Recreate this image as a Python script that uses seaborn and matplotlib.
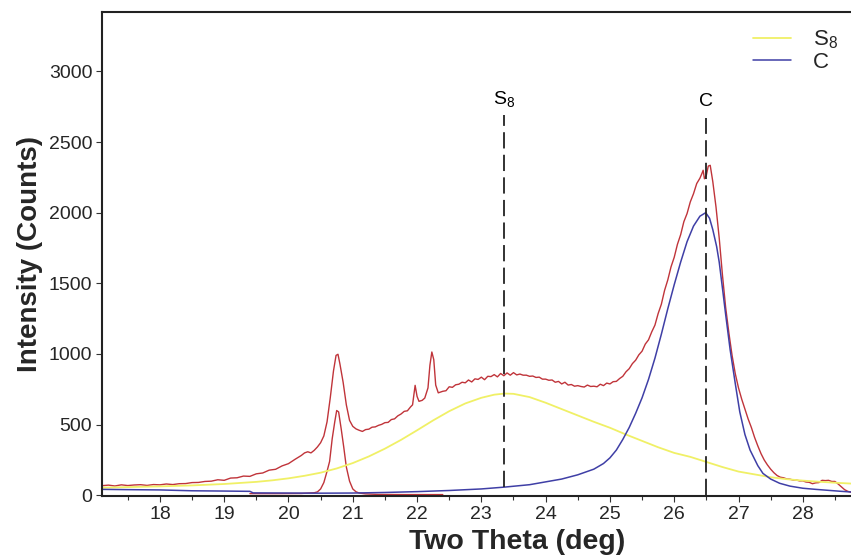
import numpy as np
import pandas as pd
import seaborn as sns
import matplotlib.pyplot as plt
from matplotlib.ticker import MultipleLocator

sns.set_theme(style='ticks')
plt.rcParams['font.family'] = ['Liberation Sans', 'DejaVu Sans']
plt.rcParams['mathtext.fontset'] = 'custom'
plt.rcParams['mathtext.rm'] = 'Liberation Sans'

# measured XRD pattern (red)
obs_x = [17.1, 17.2, 17.3, 17.4, 17.5, 17.6, 17.7, 17.8, 17.9, 18.0, 18.1, 18.2, 18.3, 18.4, 18.5,
         18.6, 18.7, 18.8, 18.9, 19.0, 19.1, 19.2, 19.3, 19.4, 19.5, 19.6, 19.7, 19.8, 19.9, 20.0,
         20.1, 20.2, 20.25, 20.3, 20.35, 20.4, 20.45, 20.5, 20.55, 20.6, 20.65, 20.7, 20.74, 20.77,
         20.8, 20.85, 20.9, 20.95, 21.0, 21.05, 21.1, 21.15, 21.2, 21.25, 21.3, 21.35, 21.4, 21.45,
         21.5, 21.55, 21.6, 21.65, 21.7, 21.75, 21.8, 21.85, 21.9, 21.93, 21.97, 22.0, 22.03, 22.08,
         22.12, 22.17, 22.2, 22.23, 22.26, 22.29, 22.33, 22.4, 22.45, 22.5, 22.55, 22.6, 22.65, 22.7,
         22.75, 22.8, 22.85, 22.9, 22.95, 23.0, 23.05, 23.1, 23.15, 23.2, 23.25, 23.3, 23.35, 23.4,
         23.45, 23.5, 23.55, 23.6, 23.65, 23.7, 23.75, 23.8, 23.85, 23.9, 23.95, 24.0, 24.05, 24.1,
         24.15, 24.2, 24.25, 24.3, 24.35, 24.4, 24.45, 24.5, 24.55, 24.6, 24.65, 24.7, 24.75, 24.8,
         24.85, 24.9, 24.95, 25.0, 25.05, 25.1, 25.15, 25.2, 25.25, 25.3, 25.35, 25.4, 25.45, 25.5,
         25.55, 25.6, 25.65, 25.7, 25.75, 25.8, 25.85, 25.9, 25.95, 26.0, 26.05, 26.1, 26.15, 26.2,
         26.25, 26.3, 26.35, 26.4, 26.43, 26.45, 26.47, 26.5, 26.53, 26.56, 26.6, 26.65, 26.7, 26.75,
         26.8, 26.85, 26.9, 26.95, 27.0, 27.05, 27.1, 27.15, 27.2, 27.25, 27.3, 27.35, 27.4, 27.45,
         27.5, 27.55, 27.6, 27.65, 27.7, 27.75, 27.8, 27.85, 27.9, 27.95, 28.0, 28.05, 28.1, 28.15,
         28.2, 28.25, 28.3, 28.35, 28.4, 28.45, 28.5, 28.55, 28.6, 28.65, 28.7, 28.75, 28.8]
obs_y = [68, 72, 66, 74, 69, 73, 75, 70, 76, 74, 80, 76, 82, 83, 90,
         91, 98, 100, 110, 106, 122, 124, 136, 134, 152, 158, 178, 184, 208, 224,
         254, 282, 300, 308, 300, 318, 342, 372, 420, 520, 690, 880, 990, 998,
         930, 800, 640, 530, 488, 470, 460, 452, 465, 468, 482, 484, 495, 502,
         514, 516, 536, 541, 562, 575, 594, 598, 626, 640, 778, 700, 665, 672,
         688, 760, 920, 1014, 960, 780, 725, 736, 740, 768, 764, 782, 786, 800,
         796, 816, 802, 824, 820, 836, 818, 842, 840, 854, 838, 862, 846, 866,
         850, 868, 852, 858, 850, 850, 842, 844, 834, 836, 822, 822, 814, 816,
         800, 806, 788, 800, 780, 784, 772, 776, 770, 766, 780, 770, 772, 768,
         786, 776, 794, 788, 804, 806, 826, 842, 874, 896, 932, 956, 994, 1020,
         1070, 1100, 1156, 1204, 1286, 1352, 1450, 1524, 1616, 1684, 1776, 1844, 1936, 1994,
         2076, 2134, 2206, 2244, 2276, 2300, 2240, 2265, 2330, 2335, 2220, 2040, 1820, 1560,
         1330, 1150, 990, 860, 760, 680, 610, 540, 480, 410, 350, 295, 250, 215,
         185, 160, 140, 128, 124, 116, 114, 108, 108, 102, 102, 94, 92, 82,
         88, 90, 106, 104, 106, 98, 98, 80, 60, 40, 28, 22, 20]

# narrow component at 20.77 (red)
peak_x = [19.4, 19.8, 20.2, 20.4, 20.45, 20.5, 20.55, 20.6, 20.64, 20.68, 20.72, 20.75, 20.78,
          20.82, 20.86, 20.9, 20.95, 21.0, 21.05, 21.1, 21.2, 21.4, 21.8, 22.4]
peak_y = [12, 12, 13, 18, 24, 45, 90, 170, 240, 400, 520, 600, 590,
          470, 340, 200, 100, 45, 25, 16, 10, 6, 5, 5]

# S8 fitted component (yellow)
s8_x = [17.1, 17.5, 18.0, 18.5, 19.0, 19.5, 19.75, 20.0, 20.25, 20.5, 20.75, 21.0, 21.25, 21.5,
        21.75, 22.0, 22.25, 22.5, 22.75, 23.0, 23.2, 23.36, 23.5, 23.75, 24.0, 24.25, 24.5, 24.75,
        25.0, 25.25, 25.5, 25.75, 26.0, 26.25, 26.5, 26.75, 27.0, 27.25, 27.5, 27.75, 28.0, 28.25,
        28.5, 28.75, 29.0]
s8_y = [54, 58, 63, 70, 80, 95, 106, 120, 138, 160, 190, 228, 275, 330,
        392, 460, 530, 595, 650, 690, 712, 720, 718, 695, 655, 610, 565, 520,
        478, 430, 385, 340, 300, 272, 236, 200, 168, 148, 128, 114, 104, 96,
        89, 83, 78]

# C fitted component (blue)
c_x = [17.1, 17.5, 18.0, 18.5, 19.0, 19.4, 19.45, 20.0, 20.5, 21.0, 21.5, 22.0, 22.5, 23.0,
       23.36, 23.75, 24.0, 24.25, 24.5, 24.75, 24.9, 25.0, 25.1, 25.2, 25.3, 25.4, 25.5, 25.6,
       25.7, 25.8, 25.9, 26.0, 26.1, 26.2, 26.3, 26.4, 26.49, 26.55, 26.6, 26.66, 26.7, 26.76,
       26.8, 26.87, 26.95, 27.02, 27.1, 27.18, 27.3, 27.38, 27.5, 27.64, 27.8, 28.0, 28.2, 28.4,
       28.6, 28.8, 29.0]
c_y = [42, 40, 38, 32, 30, 28, 17, 16, 15, 16, 20, 26, 34, 45,
       58, 75, 95, 115, 145, 185, 225, 265, 320, 395, 480, 580, 690, 820,
       970, 1140, 1320, 1490, 1650, 1795, 1905, 1975, 2000, 1960, 1880, 1760, 1650, 1430,
       1280, 1030, 790, 590, 430, 320, 210, 155, 115, 85, 65, 50, 42, 35,
       28, 22, 18]

# reference positions
ref_labels = ['S$_\\mathregular{8}$', 'C']
ref_pos = [23.36, 26.49]
ref_bottom = [58, 0]
ref_top = [2690, 2670]
ref_text_y = [2730, 2730]

red = '#c0343a'
yellow = '#f0f066'
blue = '#3f3fa6'

fig = plt.figure(figsize=(8.51, 5.58), dpi=100)
ax = fig.add_axes([0.1199, 0.1111, 0.899, 0.8674])

sns.lineplot(x=obs_x, y=obs_y, ax=ax, color=red, lw=1.0, sort=False)
sns.lineplot(x=peak_x, y=peak_y, ax=ax, color=red, lw=1.0, sort=False)
sns.lineplot(x=s8_x, y=s8_y, ax=ax, color=yellow, lw=1.3, sort=False, label='S$_\\mathregular{8}$')
sns.lineplot(x=c_x, y=c_y, ax=ax, color=blue, lw=1.1, sort=False, label='C')

ax.vlines(ref_pos, ref_bottom, ref_top, colors='#222222', linestyles=(0, (9, 3.5)), lw=1.3)
for lab, xp, yp in zip(ref_labels, ref_pos, ref_text_y):
    ax.text(xp, yp, lab, ha='center', va='bottom', fontsize=14, color='black')

ax.set_xlim(17.1, 29.0)
ax.set_ylim(-5, 3420)
ax.set_xticks(np.arange(18, 29))
ax.xaxis.set_minor_locator(MultipleLocator(0.5))
ax.set_yticks(np.arange(0, 3001, 500))
ax.tick_params(axis='both', which='major', labelsize=14, length=4, width=0.8, color='#333333', pad=3)
ax.tick_params(axis='x', which='minor', length=3, width=0.8, color='#333333')

for s in ['left', 'bottom', 'top']:
    ax.spines[s].set_color('#222222')
    ax.spines[s].set_linewidth(1.5)
ax.spines['right'].set_visible(False)

ax.set_xlabel('Two Theta (deg)', fontsize=20.5, fontweight='bold')
ax.xaxis.set_label_coords(0.5425, -0.068, transform=ax.transAxes)
ax.xaxis.label.set_va('top')
ax.set_ylabel('Intensity (Counts)', fontsize=20, fontweight='bold', labelpad=4)

ax.legend(loc='upper right', bbox_to_anchor=(0.995, 0.965), bbox_transform=fig.transFigure,
          frameon=False, fontsize=16, handlelength=1.7, handletextpad=1.0, labelspacing=0.05,
          borderaxespad=0)

fig.savefig('out.png', dpi=100)
